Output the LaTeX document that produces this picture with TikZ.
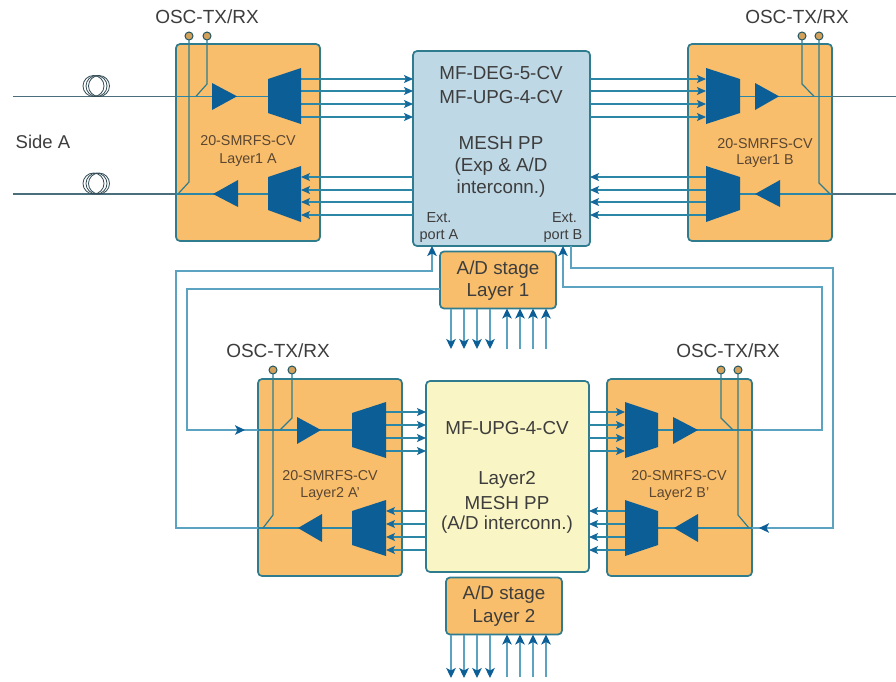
\documentclass[tikz,border=0pt]{standalone}
\usepackage{fontspec}
\setmainfont{Liberation Sans}
\usetikzlibrary{arrows.meta}
\definecolor{orangeb}{HTML}{F9BE6B}
\definecolor{edgeb}{HTML}{2F7C8E}
\definecolor{bluemux}{HTML}{0B5E96}
\definecolor{meshb}{HTML}{BFD8E6}
\definecolor{meshy}{HTML}{FAF5C4}
\definecolor{wire}{HTML}{2C86A6}
\definecolor{wirel}{HTML}{5CA3C2}
\definecolor{fibre}{HTML}{4A6E7C}
\definecolor{txt}{HTML}{3D3D3D}
\definecolor{txtb}{HTML}{5A4632}
\tikzset{
  box/.style={draw=edgeb,line width=1.7pt,rounded corners=4pt,inner sep=0pt,outer sep=0pt,text=txt,align=center},
  card/.style={box,fill=orangeb,minimum width=144pt,minimum height=197pt},
  stagebox/.style={box,fill=orangeb,minimum width=116pt,minimum height=57pt},
  lbl/.style={inner sep=0pt,outer sep=0pt,text=txt,font=\fontsize{19}{19}\selectfont},
  big/.style={lbl,font=\fontsize{18.8}{18.8}\selectfont},
  small/.style={inner sep=0pt,outer sep=0pt,text=txtb,font=\fontsize{14.3}{14.3}\selectfont},
  port/.style={inner sep=0pt,outer sep=0pt,text=txt,font=\fontsize{14.5}{14.5}\selectfont},
  wr/.style={draw=wire,line width=1.1pt},
  arr/.style={wr,-{Stealth[length=9pt,width=8pt,inset=2pt,color=bluemux!70!wire]}},
  lwr/.style={draw=wirel,line width=1.4pt},
  larr/.style={lwr,-{Stealth[length=10pt,width=9.5pt,inset=2.5pt,color=bluemux]}},
  fib/.style={draw=fibre,line width=1.1pt},
  loopy/.style={draw=fibre!70!black,line width=.8pt},
  solid/.style={fill=bluemux,draw=none},
  osc/.style={circle,draw=edgeb!70!black,line width=1pt,fill=orangeb!85!black,minimum size=8pt,inner sep=0pt,outer sep=0pt},
  tap/.style={draw=edgeb,line width=1.2pt},
}
\begin{document}
\begin{tikzpicture}[x=1pt,y=-1pt]
\useasboundingbox (0,0) rectangle (896,681);
\fill[white] (0,0) rectangle (896,681);

% ---------- boxes
\node[card] (la) at (248,142.5) {};
\node[card] (lb) at (760,142.5) {};
\node[box,fill=meshb,minimum width=177pt,minimum height=195pt] (mesh) at (501.5,148.5) {};
\node[stagebox] (ad1) at (498,280) {};
\node[card] (ma) at (330,477.5) {};
\node[card,minimum width=145pt] (mb) at (679.5,477.5) {};
\node[box,fill=meshy,minimum width=163pt,minimum height=191pt] (ym) at (507.5,476.5) {};
\node[stagebox] (ad2) at (504,606) {};

% ---------- named anchors
\coordinate (edgeL) at (13,0);
\coordinate (edgeR) at (896,0);
\coordinate (muxLA) at (301,0);  \coordinate (muxLAi) at (268,0);
\coordinate (muxRB) at (706,0);  \coordinate (muxRBi) at (740,0);
\coordinate (muxMA) at (386,0);  \coordinate (muxMAi) at (352,0);
\coordinate (muxMB) at (625,0);  \coordinate (muxMBi) at (658,0);

% ---------- fibre spans and trunks
\draw[fib] (edgeL |- 0,96.3) -- (la.west |- 0,96.3);
\draw[fib] (edgeL |- 0,194) -- (la.west |- 0,194);
\draw[wr] (la.west |- 0,96.3) -- (muxLAi |- 0,96.3);
\draw[wr] (la.west |- 0,194) -- (muxLAi |- 0,194);
\draw[wr] (muxRBi |- 0,96.3) -- (lb.east |- 0,96.3);
\draw[wr] (muxRBi |- 0,194) -- (lb.east |- 0,194);
\draw[fib] (lb.east |- 0,96.3) -- (edgeR |- 0,96.3);
\draw[fib] (lb.east |- 0,194) -- (edgeR |- 0,194);
\foreach \c in {86,183.5}{
  \draw[loopy] (93.5,\c) circle[radius=10.5];
  \draw[loopy] (96.5,\c) circle[radius=10.5];
  \draw[loopy] (99,\c) circle[radius=10.5];
}
\node[lbl,font=\fontsize{18.5}{18.5}\selectfont] (sidea) at (43,142) {Side A};

% ---------- Layer 1 / mesh arrows
\foreach \y in {79,91,104,117}{
  \draw[arr] (muxLA |- 0,\y) -- (mesh.west |- 0,\y);
  \draw[arr] (mesh.east |- 0,\y) -- (muxRB |- 0,\y);
}
\foreach \y in {177,190,202,215}{
  \draw[arr] (mesh.west |- 0,\y) -- (muxLA |- 0,\y);
  \draw[arr] (muxRB |- 0,\y) -- (mesh.east |- 0,\y);
}
% ---------- Layer 2 / mesh arrows
\foreach \y in {412,425,438,451}{
  \draw[arr] (muxMA |- 0,\y) -- (ym.west |- 0,\y);
  \draw[arr] (ym.east |- 0,\y) -- (muxMB |- 0,\y);
}
\foreach \y in {511,524,537,550}{
  \draw[arr] (ym.west |- 0,\y) -- (muxMA |- 0,\y);
  \draw[arr] (muxMB |- 0,\y) -- (ym.east |- 0,\y);
}

% ---------- express links between the layers
\coordinate (pa) at (432,0); \coordinate (pb) at (563,0); \coordinate (pbo) at (571,0);
\draw[larr] (muxMAi |- 0,528) -- (176,528) -- (176,271) -- (pa |- 0,271) -- (pa |- mesh.south);
\draw[lwr] (ad1.west |- 0,289) -- (187,289) -- (187,430) -- (muxMAi |- 0,430);
\draw[larr] (200,430) -- (245,430);
\draw[wr] (ma.west |- 0,430) -- (muxMAi |- 0,430);
\draw[wr] (ma.west |- 0,528) -- (muxMAi |- 0,528);
\draw[lwr] (pbo |- mesh.south) -- (pbo |- 0,268) -- (833,268) -- (833,528) -- (muxMBi |- 0,528);
\draw[larr] (790,528) -- (759,528);
\draw[wr] (mb.east |- 0,528) -- (muxMBi |- 0,528);
\draw[larr] (muxMBi |- 0,430) -- (822,430) -- (822,287) -- (pb |- 0,287) -- (pb |- mesh.south);
\draw[wr] (mb.east |- 0,430) -- (muxMBi |- 0,430);

% ---------- A/D stage lines
\foreach \x in {451,464,477,490}{
  \coordinate (d) at (\x,349);
  \draw[larr] (\x,0 |- ad1.south) -- (d);
  \coordinate (e) at (\x,678);
  \draw[larr] (\x,0 |- ad2.south) -- (e);
}
\foreach \x in {507,520,533,546}{
  \coordinate (d) at (\x,349);
  \draw[larr] (d) -- (\x,0 |- ad1.south);
  \coordinate (e) at (\x,677);
  \draw[larr] (e) -- (\x,0 |- ad2.south);
}

% ---------- OSC taps
\node[osc] (o1) at (189,36) {};  \node[osc] (o2) at (207,36) {};
\draw[tap] (o1) -- (189,182) -- (178,194);
\draw[tap] (o2) -- (207,84) -- (196,96.3);
\node[osc] (o3) at (802,36) {};  \node[osc] (o4) at (819,36) {};
\draw[tap] (o3) -- (802,84) -- (814,96.3);
\draw[tap] (o4) -- (819,183) -- (830,194);
\node[osc] (o5) at (273,370) {};  \node[osc] (o6) at (292,370) {};
\draw[tap] (o5) -- (273,515) -- (263,528);
\draw[tap] (o6) -- (292,418) -- (280,430);
\node[osc] (o7) at (721,370) {};  \node[osc] (o8) at (738,370) {};
\draw[tap] (o7) -- (721,418) -- (733,430);
\draw[tap] (o8) -- (738,515) -- (749,528);

% ---------- amplifiers
\fill[solid] (212,83) -- (237,96.3) -- (212,110) -- cycle;
\fill[solid] (238,180) -- (213,194) -- (238,207) -- cycle;
\fill[solid] (755,83) -- (779,96.3) -- (755,110) -- cycle;
\fill[solid] (780,180) -- (755,194) -- (780,207) -- cycle;
\fill[solid] (297,417) -- (321,430) -- (297,444) -- cycle;
\fill[solid] (322,514) -- (298,528) -- (322,542) -- cycle;
\fill[solid] (673,417) -- (698,430) -- (673,444) -- cycle;
\fill[solid] (698,514) -- (674,528) -- (698,542) -- cycle;

% ---------- multiplexers
\fill[solid] (268,79) -- (301,68) -- (301,124) -- (268,113) -- cycle;
\fill[solid] (268,177) -- (301,166) -- (301,222) -- (268,210) -- cycle;
\fill[solid] (740,79) -- (706,68) -- (706,124) -- (740,113) -- cycle;
\fill[solid] (740,177) -- (706,166) -- (706,222) -- (740,210) -- cycle;
\fill[solid] (352,413) -- (386,402) -- (386,458) -- (352,447) -- cycle;
\fill[solid] (352,511) -- (386,500) -- (386,556) -- (352,545) -- cycle;
\fill[solid] (658,413) -- (625,402) -- (625,458) -- (658,447) -- cycle;
\fill[solid] (658,511) -- (625,500) -- (625,556) -- (658,545) -- cycle;

% ---------- labels
\node[lbl] (t1) at (207,17) {OSC-TX/RX};
\node[lbl] (t2) at (797,17) {OSC-TX/RX};
\node[lbl] (t3) at (278,351) {OSC-TX/RX};
\node[lbl] (t4) at (728,351) {OSC-TX/RX};
\node[small] (c1a) at (248,140.5) {20-SMRFS-CV};
\node[small] (c1b) at (248,160) {Layer1 A};
\node[small] (c2a) at (765,143.5) {20-SMRFS-CV};
\node[small] (c2b) at (765,161.5) {Layer1 B};
\node[small] (c3a) at (330,476) {20-SMRFS-CV};
\node[small] (c3b) at (330,494) {Layer2 A'};
\node[small] (c4a) at (679,476) {20-SMRFS-CV};
\node[small] (c4b) at (679,494) {Layer2 B'};
\node[big] (m1) at (501,73) {MF-DEG-5-CV};
\node[big] (m2) at (501,97) {MF-UPG-4-CV};
\node[big] (m3) at (501,143) {MESH PP};
\node[big] (m4) at (501,166.5) {(Exp \& A/D};
\node[big] (m5) at (501,189) {interconn.)};
\node[port] (p1) at (439,218) {Ext.};
\node[port] (p2) at (439,236) {port A};
\node[port] (p3) at (564.5,218) {Ext.};
\node[port] (p4) at (563,236) {port B};
\node[big] (s1) at (498,270) {A/D stage};
\node[big] (s2) at (498,292) {Layer 1};
\node[big] (y1) at (507,428) {MF-UPG-4-CV};
\node[big] (y2) at (507,480) {Layer2};
\node[big] (y3) at (507,503) {MESH PP};
\node[big] (y4) at (507,525) {(A/D interconn.)};
\node[big] (s3) at (504,595) {A/D stage};
\node[big] (s4) at (504,618) {Layer 2};
\end{tikzpicture}
\end{document}
